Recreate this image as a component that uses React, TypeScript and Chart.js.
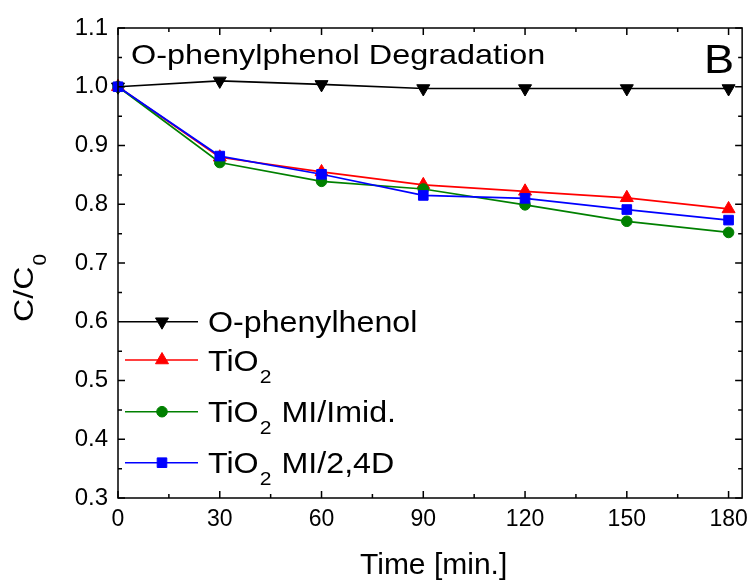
import React, { useEffect, useRef } from "react";
import { Chart, registerables } from "chart.js";

Chart.register(...registerables);

const times = [0, 30, 60, 90, 120, 150, 180];
const opp = [1.0, 1.01, 1.004, 0.997, 0.997, 0.997, 0.997];
const tio2 = [1.0, 0.88, 0.855, 0.833, 0.822, 0.811, 0.792];
const tio2Imid = [1.0, 0.871, 0.839, 0.826, 0.799, 0.771, 0.752];
const tio2D = [1.0, 0.882, 0.851, 0.815, 0.81, 0.791, 0.773];
const seriesNames = ["O-phenylhenol", "TiO_2", "TiO_2 MI/Imid.", "TiO_2 MI/2,4D"];
const seriesColors = ["#000000", "#ff0000", "#008000", "#0000ff"];
const chartTitle = "O-phenylphenol Degradation";
const panelLabel = "B";
const xTitle = "Time [min.]";
const yTitle = "C/C_0";

const FONT = '"Liberation Sans", Arial, sans-serif';

type Marker = { style: string; r: number; rot: number };
const markers: Marker[] = [
  { style: "triangle", r: 7.5, rot: 180 },
  { style: "triangle", r: 7.5, rot: 0 },
  { style: "circle", r: 5.3, rot: 0 },
  { style: "rect", r: 6.8, rot: 0 },
];

function drawMarker(ctx: CanvasRenderingContext2D, m: Marker, x: number, y: number, color: string) {
  ctx.save();
  ctx.fillStyle = color;
  ctx.strokeStyle = color;
  ctx.lineWidth = 1;
  ctx.beginPath();
  if (m.style === "triangle") {
    let rad = (m.rot * Math.PI) / 180;
    ctx.moveTo(x + Math.sin(rad) * m.r, y - Math.cos(rad) * m.r);
    rad += (2 * Math.PI) / 3;
    ctx.lineTo(x + Math.sin(rad) * m.r, y - Math.cos(rad) * m.r);
    rad += (2 * Math.PI) / 3;
    ctx.lineTo(x + Math.sin(rad) * m.r, y - Math.cos(rad) * m.r);
    ctx.closePath();
  } else if (m.style === "circle") {
    ctx.arc(x, y, m.r, 0, Math.PI * 2);
  } else {
    const s = m.r * Math.SQRT1_2;
    ctx.rect(x - s, y - s, 2 * s, 2 * s);
  }
  ctx.fill();
  ctx.stroke();
  ctx.restore();
}

function drawRich(
  ctx: CanvasRenderingContext2D,
  text: string,
  x: number,
  y: number,
  size: number,
  stretch: number,
  subSize: number,
  subDrop: number
) {
  ctx.save();
  ctx.translate(x, y);
  ctx.scale(stretch, 1);
  ctx.fillStyle = "#000";
  ctx.textBaseline = "alphabetic";
  ctx.textAlign = "left";
  let cx = 0;
  const parts = text.split("_");
  parts.forEach((p, i) => {
    let main = p;
    if (i > 0) {
      const sub = p.charAt(0);
      main = p.slice(1);
      ctx.font = `${subSize}px ${FONT}`;
      ctx.fillText(sub, cx + 1, subDrop);
      cx += ctx.measureText(sub).width + 2;
    }
    ctx.font = `${size}px ${FONT}`;
    ctx.fillText(main, cx, 0);
    cx += ctx.measureText(main).width;
  });
  ctx.restore();
}

const decorPlugin = {
  id: "decor",
  afterDraw(chart: any) {
    const { ctx, chartArea } = chart;
    const { left, right, top, bottom } = chartArea;
    const xs = chart.scales.x;
    const ys = chart.scales.y;
    ctx.save();
    ctx.strokeStyle = "#000";
    ctx.lineWidth = 1.5;
    ctx.strokeRect(left, top, right - left, bottom - top);
    ctx.beginPath();
    for (let v = 0; v <= 180; v += 15) {
      const px = xs.getPixelForValue(v);
      const len = v % 30 === 0 ? 7 : 4;
      ctx.moveTo(px, bottom);
      ctx.lineTo(px, bottom - len);
      ctx.moveTo(px, top);
      ctx.lineTo(px, top + len);
    }
    for (let i = 0; i <= 16; i++) {
      const py = ys.getPixelForValue(0.3 + i * 0.05);
      const len = i % 2 === 0 ? 7 : 4;
      ctx.moveTo(left, py);
      ctx.lineTo(left + len, py);
      ctx.moveTo(right, py);
      ctx.lineTo(right - len, py);
    }
    ctx.stroke();
    ctx.restore();

    // title and panel label
    drawRich(ctx, chartTitle, 131, 64, 28, 1.157, 18, 10);
    drawRich(ctx, panelLabel, 704, 73, 41, 1.1, 20, 10);

    // axis titles
    drawRich(ctx, xTitle, 360, 574, 30, 1.0, 18, 10);
    ctx.save();
    ctx.translate(33, 322);
    ctx.rotate(-Math.PI / 2);
    drawRich(ctx, yTitle, 0, 0, 28, 1.15, 18, 13);
    ctx.restore();

    // legend
    const rows = [321.7, 360, 411.7, 462.7];
    seriesNames.forEach((name, i) => {
      const ry = rows[i];
      ctx.save();
      ctx.strokeStyle = seriesColors[i];
      ctx.lineWidth = 1.6;
      ctx.beginPath();
      ctx.moveTo(125, ry);
      ctx.lineTo(198, ry);
      ctx.stroke();
      ctx.restore();
      drawMarker(ctx, markers[i], 162, ry, seriesColors[i]);
      drawRich(ctx, name, 208, ry + 10.5, 29, 1.11, 19, 12);
    });
  },
};

export default function App() {
  const ref = useRef<HTMLCanvasElement>(null);
  useEffect(() => {
    document.body.style.margin = "0";
    const series = [opp, tio2, tio2Imid, tio2D];
    const datasets = series.map((vals, i) => ({
      label: seriesNames[i].replace("_", ""),
      data: times.map((t, j) => ({ x: t, y: vals[j] })),
      borderColor: seriesColors[i],
      backgroundColor: seriesColors[i],
      pointBackgroundColor: seriesColors[i],
      pointBorderColor: seriesColors[i],
      pointBorderWidth: 1,
      pointStyle: markers[i].style,
      pointRotation: markers[i].rot,
      pointRadius: markers[i].r,
      borderWidth: 1.7,
      tension: 0,
      clip: false as any,
      order: 3 - i,
    }));
    const chart = new Chart(ref.current as HTMLCanvasElement, {
      type: "line",
      data: { datasets },
      options: {
        responsive: false,
        maintainAspectRatio: false,
        animation: false,
        layout: { padding: { top: 28, right: 11, left: 0, bottom: 0 } },
        plugins: { legend: { display: false }, tooltip: { enabled: false } },
        scales: {
          x: {
            type: "linear",
            min: 0,
            max: 184,
            afterFit(s: any) {
              s.height = 85;
            },
            grid: { display: false, drawTicks: false },
            border: { display: false },
            ticks: {
              stepSize: 30,
              includeBounds: false,
              autoSkip: false,
              maxRotation: 0,
              padding: 8,
              color: "#000",
              font: { size: 23, family: FONT },
            },
          },
          y: {
            type: "linear",
            min: 0.3,
            max: 1.1,
            afterFit(s: any) {
              s.width = 118;
            },
            grid: { display: false, drawTicks: false },
            border: { display: false },
            ticks: {
              stepSize: 0.1,
              padding: 10,
              color: "#000",
              font: { size: 24, family: FONT },
              callback: (v: any) => Number(v).toFixed(1),
            },
          },
        },
      },
      plugins: [decorPlugin],
    });
    return () => chart.destroy();
  }, []);
  return (
    <div style={{ width: 756, height: 583 }}>
      <canvas ref={ref} width={756} height={583} style={{ display: "block" }} />
    </div>
  );
}
